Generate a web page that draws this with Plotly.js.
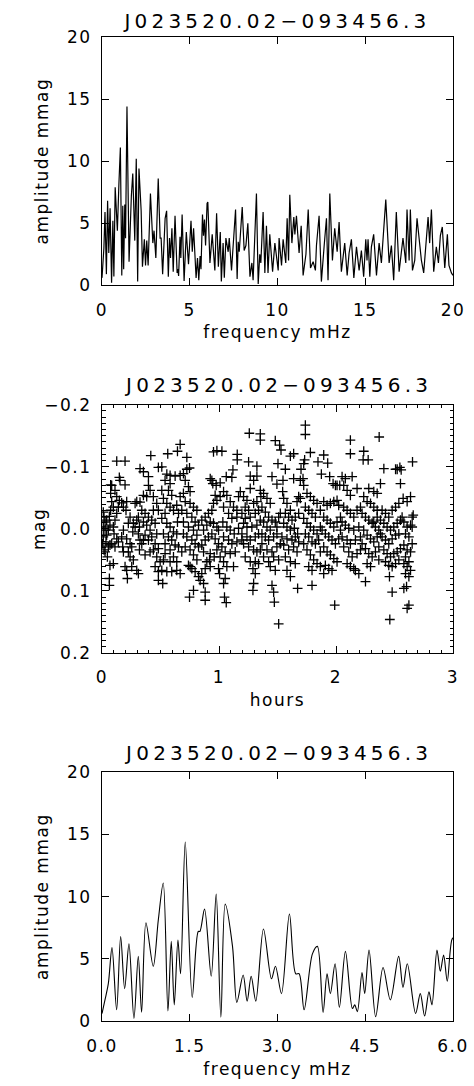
<!DOCTYPE html>
<html>
<head>
<meta charset="utf-8">
<script src="https://cdn.plot.ly/plotly-3.0.1.min.js"></script>
<style>
  html, body { margin: 0; padding: 0; background: #fff; }
  #chart .main-svg text { letter-spacing: 1.5px; }
  #chart .main-svg .gtitle, #chart .main-svg .annotation-text { letter-spacing: 4.2px; }
</style>
</head>
<body>
<div id="chart" style="width:474px;height:1086px;"></div>
<script>
// ---- Titles / labels ----
const starName = "J023520.02\u2212093456.3";
const freqLabel = "frequency mHz";
const ampLabel = "amplitude mmag";
const timeLabel = "hours";
const magLabel = "mag";

// ---- Amplitude spectrum (frequency in mHz, amplitude in mmag) ----
const freqMHz = [
 0, 0.051, 0.108, 0.171, 0.25, 0.319, 0.387, 0.461, 0.546, 0.62, 0.677, 0.751, 0.876, 0.962, 1.047,
 1.127, 1.184, 1.235, 1.298, 1.343, 1.423, 1.542, 1.645, 1.673, 1.753, 1.867, 1.952, 2.032, 2.106, 2.231,
 2.305, 2.413, 2.481, 2.55, 2.629, 2.76, 2.897, 2.965, 3.068, 3.204, 3.312, 3.369, 3.455, 3.597, 3.682,
 3.779, 3.847, 3.904, 3.984, 4.058, 4.161, 4.28, 4.32, 4.365, 4.445, 4.491, 4.565, 4.678, 4.804, 4.929,
 5.071, 5.145, 5.219, 5.361, 5.441, 5.515, 5.589, 5.64, 5.726, 5.783, 5.84, 5.902, 5.987,
 6.03, 6.15, 6.28, 6.43, 6.53, 6.63, 6.74, 6.80, 6.90, 6.97, 7.06, 7.19, 7.25, 7.38, 7.61, 7.70, 7.76, 7.82,
 7.99, 8.10, 8.20, 8.31, 8.43, 8.54, 8.61, 8.80, 8.90, 8.99, 9.05, 9.18, 9.28, 9.37, 9.46, 9.56, 9.72, 9.85,
 10.04, 10.09, 10.23, 10.32, 10.47, 10.55, 10.63, 10.70, 10.82, 10.93, 10.99, 11.08, 11.23, 11.35, 11.46,
 11.62, 11.75, 11.88, 12.03, 12.16, 12.22, 12.37, 12.50, 12.66, 12.79, 12.88, 12.98, 13.13, 13.26, 13.40,
 13.51, 13.64, 13.83, 13.97, 14.08, 14.21, 14.35, 14.50, 14.65, 14.78, 14.91, 15.03, 15.10, 15.16, 15.26,
 15.35, 15.48, 15.64, 15.79, 15.92, 16.17, 16.36, 16.49, 16.62, 16.77, 16.93, 17.15, 17.31, 17.38, 17.50,
 17.57, 17.69, 17.82, 17.95, 18.20, 18.33, 18.58, 18.67, 18.77, 18.90, 19.05, 19.17, 19.28, 19.39, 19.53,
 19.68, 19.77, 19.91, 20.0
];
const ampMmag = [
 0.6, 1.7, 3.0, 5.9, 0.9, 6.8, 2.6, 6.2, 0.2, 5.2, 0.7, 7.9, 4.4, 8.1, 11.1,
 0.8, 6.4, 1.3, 6.5, 3.8, 14.4, 1.9, 7.2, 7.2, 9.0, 3.6, 10.2, 0.3, 9.4, 6.0,
 1.5, 3.7, 1.6, 3.6, 1.6, 7.4, 3.4, 4.4, 2.2, 8.6, 3.8, 3.8, 0.9, 5.4, 6.0,
 0.7, 3.8, 2.2, 4.6, 1.1, 5.6, 1.0, 1.3, 0.75, 3.9, 2.2, 5.7, 0.35, 4.3, 1.7,
 5.2, 2.7, 4.6, 0.6, 2.2, 0.4, 2.35, 1.3, 5.7, 4.0, 5.3, 3.2, 6.6,
 6.7, 1.8, 4.1, 1.2, 5.8, 1.5, 4.3, 0.3, 3.4, 0.6, 3.8, 2.7, 3.8, 1.2, 6.1, 0.5, 3.5, 2.7,
 6.3, 2.8, 3.2, 5.0, 0.7, 1.8, 0.4, 7.4, 0.1, 2.5, 1.8, 5.9, 1.0, 4.8, 1.0, 4.1, 1.1, 3.4,
 1.2, 3.8, 1.6, 3.7, 1.8, 5.4, 2.0, 7.3, 3.4, 5.5, 4.1, 5.6, 2.6, 4.8, 0.8,
 2.5, 6.1, 1.4, 1.9, 1.2, 3.2, 5.6, 0.3, 3.2, 5.4, 0.4, 7.4, 2.0, 4.6, 2.7,
 5.1, 1.1, 3.4, 0.8, 2.6, 3.7, 0.6, 3.1, 1.2, 2.8, 0.7, 3.7, 2.0, 3.7, 0.7,
 3.1, 4.1, 0.8, 3.4, 1.8, 6.9, 1.8, 3.2, 0.4, 5.9, 1.1, 3.8, 1.8, 6.1, 2.0,
 6.1, 1.2, 2.0, 5.4, 2.0, 1.0, 5.5, 3.4, 6.1, 1.1, 3.1, 1.8, 4.0, 4.7, 1.4,
 4.1, 1.6, 1.0, 0.8
];

// ---- Light curve (time in hours, differential magnitude) ----
const timeHours = [
 0.011,0.017,0.026,0.011,0.026,0.011,0.006,0.017,0.026,0.054,0.068,0.083,0.040,0.054,0.068,0.040,0.063,0.074,0.097,0.083,
 0.074,0.083,0.111,0.126,0.148,0.140,0.126,0.111,0.097,0.103,0.126,0.140,0.111,0.068,0.097,0.063,0.063,0.148,0.154,0.126,
 0.197,0.074,0.034,0.046,
 0.168,0.183,0.211,0.205,0.240,0.225,0.183,0.168,0.211,0.240,0.254,0.225,0.240,0.268,0.197,0.211,0.217,0.254,0.297,0.311,
 0.268,0.297,0.311,0.283,0.311,0.263,0.177,0.183,0.283,0.297,0.325,0.197,0.325,0.320,0.325,0.320,
 0.354,0.397,0.397,0.411,0.439,0.354,0.382,0.340,0.368,0.397,0.425,0.454,0.354,0.382,0.411,0.368,0.397,0.425,0.468,0.454,
 0.439,0.482,0.411,0.368,0.468,0.497,0.454,0.482,0.482,0.519,0.417,0.482,0.511,0.468,0.482,0.439,0.354,0.340,
 0.562,0.645,0.668,0.554,0.582,0.625,0.668,0.539,0.582,0.568,0.596,0.511,0.525,0.554,0.582,0.611,0.639,0.654,0.539,0.511,
 0.554,0.582,0.611,0.639,0.525,0.568,0.596,0.539,0.625,0.654,0.582,0.539,0.611,0.639,0.582,0.554,0.596,0.639,0.668,0.525,
 0.511,0.645,
 0.725,0.696,0.725,0.748,0.711,0.739,0.753,0.696,0.668,0.711,0.753,0.782,0.811,0.682,0.725,0.768,0.796,0.825,0.696,0.739,
 0.782,0.811,0.696,0.725,0.768,0.796,0.825,0.711,0.753,0.782,0.811,0.739,0.768,0.796,0.825,0.839,0.748,0.782,0.753,0.682,
 0.868,0.882,0.882,0.853,0.882,0.896,0.919,0.925,0.868,0.853,0.882,0.910,0.939,0.868,0.896,0.925,0.953,0.982,0.996,0.853,
 0.882,0.910,0.939,0.953,0.982,1.010,0.967,0.939,0.947,0.976,1.010,0.953,0.982,0.925,0.967,0.996,0.982,0.959,0.996,1.005,
 0.925,
 1.025,1.062,1.110,1.119,1.156,1.156,1.039,1.067,1.096,1.124,1.153,1.039,1.082,1.110,1.153,1.033,1.067,1.096,1.130,1.167,
 1.039,1.082,1.110,1.153,1.025,1.053,1.096,1.139,1.039,1.067,1.124,1.053,1.039,1.047,1.062,1.167,1.182,1.010,
 1.259,1.353,1.353,1.253,1.324,1.267,1.296,1.324,1.267,1.353,1.210,1.239,1.224,1.253,1.296,1.324,1.196,1.224,1.267,1.310,
 1.338,1.210,1.239,1.281,1.324,1.353,1.196,1.239,1.267,1.310,1.338,1.210,1.253,1.296,1.324,1.353,1.224,1.267,1.310,1.338,
 1.290,1.310,1.296,1.290,1.196,
 1.481,1.518,1.530,1.453,1.495,1.381,1.410,1.438,1.367,1.396,1.424,1.453,1.481,1.381,1.410,1.438,1.367,1.396,1.424,1.467,
 1.495,1.367,1.410,1.453,1.495,1.524,1.381,1.424,1.467,1.510,1.438,1.481,1.453,1.467,1.473,1.510,1.495,1.510,1.524,1.358,
 1.504,1.567,1.547,1.544,1.638,1.701,1.610,1.638,1.553,1.581,1.610,1.567,1.595,1.624,1.652,1.681,1.553,1.581,1.610,1.644,
 1.672,1.538,1.581,1.624,1.652,1.681,1.553,1.595,1.638,1.667,1.567,1.610,1.652,1.581,1.610,1.672,1.795,1.681,1.667,1.695,
 1.738,1.738,1.732,1.781,1.724,1.695,1.718,1.724,1.846,1.752,1.781,1.809,1.838,1.738,1.767,1.795,1.824,1.866,1.724,1.752,
 1.781,1.809,1.838,1.866,1.738,1.767,1.795,1.824,1.852,1.752,1.781,1.809,1.838,1.866,1.767,1.795,1.866,1.724,
 1.895,1.929,1.875,1.946,1.975,1.995,2.009,2.032,1.895,1.924,1.952,1.981,2.009,2.023,1.895,1.924,1.952,1.981,2.009,2.038,
 1.881,1.909,1.938,1.966,1.995,2.023,1.895,1.924,1.952,1.981,2.009,1.909,1.938,1.966,1.895,1.989,2.038,
 2.123,2.123,2.052,2.080,2.138,2.180,2.066,2.095,2.123,2.152,2.180,2.209,2.052,2.080,2.109,2.152,2.195,2.052,2.095,2.123,
 2.166,2.209,2.066,2.109,2.138,2.180,2.209,2.095,2.123,2.166,2.195,2.152,2.252,2.123,2.095,2.066,
 2.237,2.232,2.275,2.369,2.280,2.323,2.352,2.380,2.237,2.266,2.295,2.323,2.352,2.223,2.252,2.280,2.309,2.337,2.366,2.237,
 2.266,2.295,2.323,2.352,2.380,2.223,2.252,2.280,2.309,2.337,2.366,2.266,2.295,2.366,2.323,2.352,2.380,
 2.409,2.509,2.523,2.546,2.557,2.551,2.394,2.423,2.451,2.480,2.509,2.537,2.409,2.437,2.466,2.494,2.523,2.551,2.394,2.423,
 2.451,2.480,2.509,2.537,2.409,2.437,2.466,2.494,2.523,2.551,2.423,2.451,2.480,2.509,2.537,2.457,2.480,2.460,2.565,
 2.654,2.574,2.608,2.637,2.651,2.580,2.608,2.637,2.594,2.623,2.651,2.580,2.608,2.637,2.594,2.623,2.580,2.608,2.637,2.594,
 2.623,2.580,2.603,2.623,2.608,2.660,2.651
];
const magValues = [
 -0.027,-0.019,-0.011,-0.003,0.002,0.013,0.024,0.034,0.037,0.029,0.026,0.024,0.010,0.002,-0.006,-0.014,-0.020,-0.030,-0.035,-0.044,
 -0.057,-0.070,-0.062,-0.052,-0.046,-0.035,-0.025,-0.014,-0.003,0.008,0.016,0.021,0.029,0.059,0.056,0.080,0.091,-0.083,-0.078,-0.109,
 -0.109,-0.071,0.021,0.045,
 -0.042,-0.035,-0.044,-0.030,-0.019,-0.009,0.002,0.013,0.016,0.024,0.029,0.037,0.045,0.050,0.061,0.067,0.080,0.061,0.067,0.072,
 -0.009,-0.014,-0.019,-0.003,0.008,0.005,0.029,0.037,-0.041,-0.044,-0.043,-0.071,-0.097,-0.003,0.018,0.034,
 -0.092,-0.084,-0.070,-0.062,-0.052,-0.054,-0.052,-0.030,-0.025,-0.019,-0.014,-0.009,-0.011,-0.006,0.002,0.010,0.018,0.013,0.008,0.024,
 0.034,0.032,0.037,0.042,0.045,0.053,0.061,0.069,0.083,0.088,-0.118,-0.099,-0.100,-0.041,-0.030,-0.030,0.018,0.024,
 -0.121,-0.125,-0.136,-0.088,-0.086,-0.085,-0.086,-0.078,-0.073,-0.062,-0.054,-0.062,-0.049,-0.041,-0.035,-0.030,-0.038,-0.025,-0.025,-0.017,
 -0.009,-0.003,0.005,0.008,0.008,0.013,0.018,0.024,0.026,0.029,0.034,0.040,0.045,0.053,0.053,0.069,0.069,0.067,0.072,0.050,
 0.067,-0.011,
 -0.115,-0.089,-0.096,-0.098,-0.078,-0.068,-0.060,-0.057,-0.052,-0.044,-0.041,-0.035,-0.030,-0.030,-0.025,-0.019,-0.011,-0.006,-0.011,-0.003,
 0.002,0.010,0.008,0.013,0.018,0.024,0.029,0.029,0.034,0.042,0.050,0.059,0.064,0.069,0.077,0.083,0.110,0.099,0.061,0.037,
 0.088,0.102,0.115,0.072,0.064,0.053,0.050,0.040,0.037,0.026,0.018,0.013,0.008,0.002,-0.006,-0.011,-0.009,-0.003,0.002,-0.014,
 -0.019,-0.025,-0.030,-0.041,-0.046,-0.052,-0.054,-0.078,-0.073,-0.070,-0.074,-0.124,-0.126,-0.081,0.016,0.024,0.034,0.045,0.064,0.072,
 0.061,
 -0.125,-0.084,-0.083,-0.095,-0.120,-0.111,-0.060,-0.054,-0.044,-0.035,-0.030,-0.035,-0.025,-0.017,-0.019,-0.011,-0.003,0.002,0.008,-0.001,
 0.013,0.018,0.024,0.021,0.029,0.037,0.040,0.037,0.053,0.061,0.061,0.080,0.088,0.110,0.119,-0.052,-0.060,0.045,
 -0.154,-0.153,-0.143,-0.108,-0.101,-0.085,-0.078,-0.085,-0.065,-0.062,-0.052,-0.046,-0.035,-0.030,-0.041,-0.044,-0.025,-0.017,-0.019,-0.025,
 -0.030,-0.009,-0.003,-0.003,-0.006,-0.014,0.008,0.013,0.018,0.013,0.008,0.024,0.029,0.034,0.037,0.034,0.045,0.053,0.053,0.056,
 0.064,0.072,0.088,0.099,0.018,
 -0.142,-0.135,-0.127,-0.084,-0.072,-0.057,-0.049,-0.041,-0.035,-0.027,-0.019,-0.014,-0.011,-0.011,-0.003,0.002,0.008,0.013,0.018,0.013,
 0.008,0.024,0.034,0.037,0.029,0.024,0.045,0.053,0.045,0.050,0.061,0.067,0.091,0.102,0.118,0.153,-0.003,-0.019,-0.025,-0.052,
 -0.105,-0.096,-0.078,-0.060,-0.081,-0.096,-0.117,-0.121,-0.049,-0.041,-0.030,-0.025,-0.019,-0.014,-0.019,-0.025,-0.009,-0.003,0.002,-0.001,
 0.008,0.013,0.016,0.018,0.013,0.021,0.026,0.034,0.029,0.037,0.045,0.053,0.056,0.067,0.077,0.096,0.091,-0.052,-0.044,-0.049,
 -0.167,-0.152,-0.111,-0.123,-0.105,-0.078,-0.081,-0.070,-0.108,-0.057,-0.052,-0.046,-0.041,-0.035,-0.030,-0.025,-0.019,-0.030,-0.017,-0.009,
 -0.003,0.002,0.008,-0.003,0.008,0.013,0.021,0.024,0.018,0.034,0.042,0.050,0.056,0.061,0.061,0.067,0.037,0.024,
 -0.119,-0.106,-0.088,-0.084,-0.073,-0.070,-0.070,-0.070,-0.044,-0.038,-0.041,-0.044,-0.046,-0.038,-0.019,-0.014,-0.009,-0.003,-0.011,-0.019,
 0.002,0.008,0.013,0.018,0.024,0.016,0.029,0.037,0.042,0.048,0.053,0.059,0.064,0.067,0.072,0.123,0.002,
 -0.143,-0.121,-0.084,-0.081,-0.084,-0.065,-0.035,-0.030,-0.025,-0.019,-0.030,-0.035,-0.011,-0.006,-0.001,0.002,-0.003,0.013,0.018,0.024,
 0.018,0.013,0.029,0.037,0.045,0.040,0.034,0.056,0.061,0.067,0.072,0.064,0.085,-0.054,-0.062,-0.070,
 -0.125,-0.111,-0.111,-0.148,-0.065,-0.060,-0.057,-0.073,-0.052,-0.044,-0.041,-0.035,-0.030,-0.025,-0.019,-0.014,-0.009,-0.003,0.002,0.002,
 0.010,0.016,0.021,0.013,0.008,0.024,0.032,0.040,0.045,0.037,0.029,0.056,0.061,0.050,-0.011,-0.019,-0.014,
 -0.097,-0.096,-0.096,-0.099,-0.095,-0.073,-0.030,-0.025,-0.019,-0.030,-0.035,-0.041,-0.009,-0.003,0.002,-0.003,-0.009,-0.014,0.013,0.018,
 0.024,0.016,0.010,0.008,0.034,0.040,0.045,0.040,0.037,0.032,0.053,0.059,0.061,0.056,0.050,0.077,0.102,0.146,-0.019,
 -0.108,-0.049,-0.044,-0.052,-0.019,-0.011,-0.003,-0.006,0.008,0.013,0.024,0.026,0.034,0.037,0.045,0.053,0.056,0.061,0.067,0.072,
 0.077,0.096,0.093,0.123,0.128,-0.022,-0.003
];

// ---- Tick values ----
const ampTicks = [0, 5, 10, 15, 20];
const freqTicksWide = [0, 5, 10, 15, 20];
const hourTicks = [0, 1, 2, 3];
const magTicks = [-0.2, -0.1, 0.0, 0.1, 0.2];
const freqTicksZoom = [0.0, 1.5, 3.0, 4.5, 6.0];

// ---- Styling ----
const W = 474, H = 1086;
const fontFam = "DejaVu Sans";
const baseFont = {family: fontFam, size: 17, color: "#000000", weight: "normal"};
const titleFont = {family: fontFam, size: 20, color: "#000000", weight: "normal"};
const xDom = [102 / W, 453 / W];
function yDom(top, bottom) { return [1 - bottom / H, 1 - top / H]; }

function axisStyle(extra) {
  return Object.assign({
    showline: true, linecolor: "#000", linewidth: 1, mirror: "ticks",
    ticks: "inside", ticklen: 7, tickwidth: 1, tickcolor: "#000",
    showgrid: false, zeroline: false, tickfont: baseFont, fixedrange: true
  }, extra);
}
function xTitle(t) { return {text: t, font: baseFont, standoff: 7}; }
function yTitle(t, s) { return {text: t, font: baseFont, standoff: s}; }

const traces = [
  {x: freqMHz, y: ampMmag, xaxis: "x", yaxis: "y", type: "scatter", mode: "lines",
   line: {color: "#000", width: 1.2}, hoverinfo: "skip"},
  {x: timeHours, y: magValues, xaxis: "x2", yaxis: "y2", type: "scatter", mode: "markers",
   marker: {symbol: "cross-thin", size: 7, color: "#000", line: {color: "#000", width: 1.3}}, hoverinfo: "skip"},
  {x: freqMHz, y: ampMmag, xaxis: "x3", yaxis: "y3", type: "scatter", mode: "lines",
   line: {color: "#000", width: 1.1, shape: "spline", smoothing: 0.9}, hoverinfo: "skip"}
];

const layout = {
  width: W, height: H, margin: {l: 0, r: 0, t: 0, b: 0},
  paper_bgcolor: "#fff", plot_bgcolor: "#fff", showlegend: false,
  font: baseFont,
  title: {text: starName, font: titleFont, x: 277.5 / W, xanchor: "center", y: 1 - 21 / H, yanchor: "middle"},
  xaxis: axisStyle({domain: xDom, anchor: "y", range: [0, 20], tickvals: freqTicksWide, ticklabelstandoff: 9,
                    title: xTitle(freqLabel)}),
  yaxis: axisStyle({domain: yDom(37, 285.3), anchor: "x", range: [0, 20], tickvals: ampTicks, ticklabelstandoff: 6,
                    title: yTitle(ampLabel, 16)}),
  xaxis2: axisStyle({domain: xDom, anchor: "y2", range: [0, 3], tickvals: hourTicks, ticklabelstandoff: 9,
                     minor: {dtick: 0.1, ticks: "inside", ticklen: 3.5, tickwidth: 1, tickcolor: "#000", showgrid: false},
                     title: xTitle(timeLabel)}),
  yaxis2: axisStyle({domain: yDom(404.7, 653), anchor: "x2", range: [0.2, -0.2], tickvals: magTicks, tickformat: ".1f",
                     ticklabelstandoff: 6,
                     minor: {dtick: 0.01, ticks: "inside", ticklen: 3.5, tickwidth: 1, tickcolor: "#000", showgrid: false},
                     title: yTitle(magLabel, 0)}),
  xaxis3: axisStyle({domain: xDom, anchor: "y3", range: [0, 6], tickvals: freqTicksZoom, tickformat: ".1f",
                     ticklabelstandoff: 10, title: xTitle(freqLabel)}),
  yaxis3: axisStyle({domain: yDom(772.3, 1021), anchor: "x3", range: [0, 20], tickvals: ampTicks, ticklabelstandoff: 6,
                     title: yTitle(ampLabel, 16)}),
  annotations: [
    {text: starName, xref: "paper", yref: "paper", x: 277.5 / W, y: 1 - 385 / H, xanchor: "center", yanchor: "middle",
     showarrow: false, font: titleFont},
    {text: starName, xref: "paper", yref: "paper", x: 277.5 / W, y: 1 - 753 / H, xanchor: "center", yanchor: "middle",
     showarrow: false, font: titleFont}
  ]
};

Plotly.newPlot("chart", traces, layout, {staticPlot: true, displayModeBar: false});
</script>
</body>
</html>
